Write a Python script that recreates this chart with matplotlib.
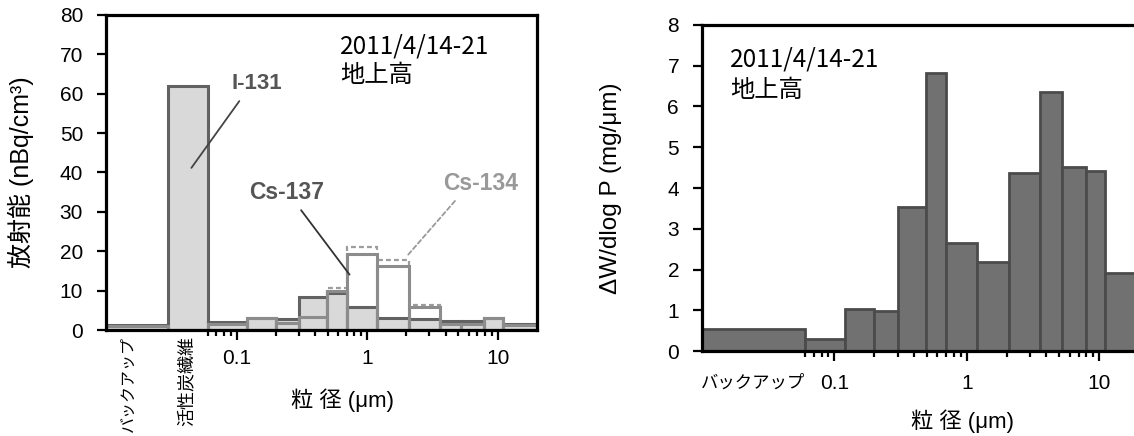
import matplotlib
matplotlib.use("Agg")
import matplotlib.pyplot as plt
from matplotlib.ticker import FixedLocator, NullFormatter
import numpy as np

plt.rcParams['font.family'] = ['Liberation Sans', 'Noto Sans CJK JP']

# Impactor stage boundaries (µm)
stage_edges = [0.06, 0.12, 0.2, 0.3, 0.49, 0.7, 1.2, 2.1, 3.6, 5.2, 7.9, 11, 20]

# Left panel: backup filter slot, activated-carbon-fibre slot, then the stages
activity_edges = [0.01, 0.03] + stage_edges
i131 = [1.2, 62.0, 2.1, 3.1, 2.7, 8.3, 9.5, 5.9, 3.1, 2.8, 2.4, 2.2, 3.1, 1.4]
cs137 = [1.0, 0.0, 1.4, 3.0, 1.8, 3.4, 9.8, 19.2, 16.2, 5.9, 1.5, 1.4, 3.0, 1.2]
cs134 = [1.0, 0.0, 1.3, 2.9, 1.7, 3.3, 10.6, 21.2, 17.8, 6.3, 1.4, 1.3, 2.9, 1.1]

# Right panel: backup filter slot, then the stages
mass_edges = [0.01] + stage_edges
mass = [0.54, 0.29, 1.02, 0.98, 3.54, 6.81, 2.64, 2.18, 4.36, 6.36, 4.51, 4.42, 1.91]

major_ticks = [0.1, 1, 10]
major_labels = ['0.1', '1', '10']
minor_ticks = [0.06, 0.07, 0.08, 0.09] + [k / 10 for k in range(2, 10)] + list(range(2, 10))

period = '2011/4/14-21'
site = '地上高'
xlabel = '粒 径 (μm)'

W, H = 1134, 436
fig = plt.figure(figsize=(W / 100, H / 100), dpi=100)


def px_axes(x0, x1, y0, y1):
    return fig.add_axes([x0 / W, 1 - y1 / H, (x1 - x0) / W, (y1 - y0) / H])


def style_axes(ax, ymax, ystep, xpad):
    ax.set_xscale('log')
    ax.set_xlim(0.01, 20)
    ax.set_ylim(0, ymax)
    ax.set_yticks(np.arange(0, ymax + ystep / 2, ystep))
    ax.xaxis.set_minor_locator(FixedLocator(minor_ticks))
    ax.xaxis.set_minor_formatter(NullFormatter())
    for sp in ax.spines.values():
        sp.set_linewidth(2.3)
        sp.set_color('black')
        sp.set_zorder(10)
    ax.tick_params(axis='y', which='major', direction='out', length=6.5, width=1.6,
                   labelsize=15, pad=10)
    ax.tick_params(axis='x', which='major', direction='out', length=7.5, width=1.6,
                   labelsize=15, pad=xpad)
    ax.tick_params(axis='x', which='minor', direction='out', length=4.5, width=1.6)
    ax.tick_params(top=False, right=False, which='both')


# ---------------- left panel: radioactivity ----------------
ax1 = px_axes(106, 537, 15, 330)
style_axes(ax1, 80, 10, 6)

a_left = np.array(activity_edges[:-1])
a_width = np.diff(activity_edges)

ax1.stairs(cs134, activity_edges, color='#9c9c9c', linestyle=(0, (2.2, 1.4)),
           linewidth=1.6, zorder=1)
ax1.bar(a_left, cs137, a_width, align='edge', color='white', edgecolor='none', zorder=2)
ax1.bar(a_left, i131, a_width, align='edge', color='#d9d9d9', edgecolor='#626262',
        linewidth=2.2, zorder=3)
ax1.bar(a_left, cs137, a_width, align='edge', fill=False, edgecolor='#8c8c8c',
        linewidth=2.2, zorder=4)

ax1.set_xticks(major_ticks, major_labels)

# filter slot labels under the axis
ax1.text(0.0148, -0.02, 'バックアップ', rotation=90, ha='center', va='top',
         fontsize=11.5, transform=ax1.get_xaxis_transform())
ax1.text(0.0418, -0.02, '活性炭繊維', rotation=90, ha='center', va='top',
         fontsize=13, transform=ax1.get_xaxis_transform())

ax1.set_ylabel('放射能 (nBq/cm³)', fontsize=18)
ax1.yaxis.set_label_coords(-0.168, 0.5)
ax1.set_xlabel(xlabel, fontsize=16)
ax1.xaxis.set_label_coords(0.548, -0.185)

ax1.text(0.543, 0.90, period, transform=ax1.transAxes, fontsize=17.5,
         family=['Noto Sans CJK JP'], va='center', ha='left')
ax1.text(0.543, 0.81, site, transform=ax1.transAxes, fontsize=17.5,
         family=['Noto Sans CJK JP'], va='center', ha='left')

# nuclide labels with leader lines
ax1.text(0.142, 62.7, 'I-131', fontsize=16, fontweight='bold', color='#555555',
         ha='center', va='center', zorder=6)
ax1.annotate('', xy=(0.0438, 40.6), xytext=(0.108, 58.7),
             arrowprops=dict(arrowstyle='-', color='#444444', lw=1.3), zorder=6)

ax1.text(0.241, 35.0, 'Cs-137', fontsize=16.5, fontweight='bold', color='#555555',
         ha='center', va='center', zorder=6)
ax1.annotate('', xy=(0.755, 13.5), xytext=(0.303, 31.0),
             arrowprops=dict(arrowstyle='-', color='#333333', lw=1.3), zorder=6)

ax1.text(7.42, 37.3, 'Cs-134', fontsize=16.5, fontweight='bold', color='#999999',
         ha='center', va='center', zorder=6)
ax1.annotate('', xy=(1.95, 18.2), xytext=(4.86, 33.3),
             arrowprops=dict(arrowstyle='-', color='#999999', lw=1.3,
                             linestyle=(0, (2.5, 1.6))), zorder=6)

# ---------------- right panel: mass size distribution ----------------
ax2 = px_axes(702, 1139, 25, 351)
style_axes(ax2, 8, 1, 9)

m_left = np.array(mass_edges[:-1])
m_width = np.diff(mass_edges)
ax2.bar(m_left, mass, m_width, align='edge', color='#717171', edgecolor='#4b4b4b',
        linewidth=2.0, zorder=3)

backup_center = np.sqrt(mass_edges[0] * mass_edges[1])
ax2.set_xticks([backup_center] + major_ticks, ['バックアップ'] + major_labels)
ax2.xaxis.get_major_ticks()[0].tick1line.set_visible(False)
ax2.xaxis.get_major_ticks()[0].label1.set_fontsize(12.5)

ax2.set_ylabel('ΔW/dlog P (mg/μm)', fontsize=17.5)
ax2.yaxis.set_label_coords(-0.182, 0.5)
ax2.set_xlabel(xlabel, fontsize=16)
ax2.xaxis.set_label_coords(0.597, -0.178)

ax2.text(0.064, 0.894, period, transform=ax2.transAxes, fontsize=17.5,
         family=['Noto Sans CJK JP'], va='center', ha='left')
ax2.text(0.064, 0.80, site, transform=ax2.transAxes, fontsize=17.5,
         family=['Noto Sans CJK JP'], va='center', ha='left')

fig.savefig('out.png', dpi=100)
